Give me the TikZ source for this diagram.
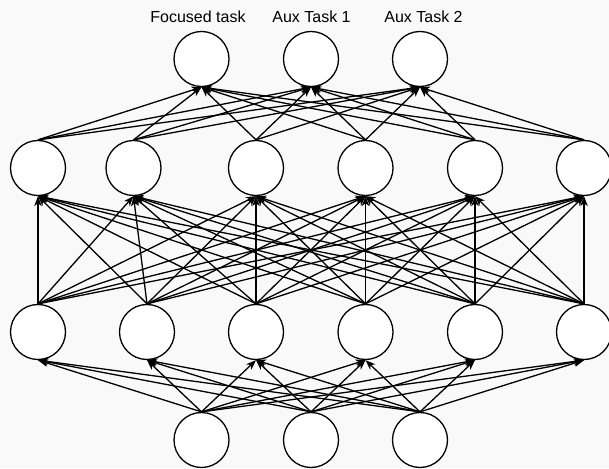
\documentclass[tikz,border=0pt]{standalone}
\usepackage{fontspec}
\setmainfont{Liberation Sans}
\usetikzlibrary{arrows.meta}
\definecolor{bgcol}{RGB}{249,249,249}
\tikzset{
  neuron/.style={circle, draw, fill=white, line width=1.3pt, minimum size=55pt, inner sep=0pt},
  link/.style={line width=1.3pt, -{Stealth[length=10pt,width=7.5pt,inset=3pt]}},
  tasklabel/.style={font=\fontsize{16}{19}\selectfont}
}
\begin{document}
\begin{tikzpicture}[x=1pt,y=1pt]
\fill[bgcol] (0,0) rectangle (609,468);
\useasboundingbox (0,0) rectangle (609,468);
% input layer
\node[neuron] (iid0) at (201.5,28){};
\node[neuron] (iid1) at (311,28){};
\node[neuron] (iid2) at (420,28){};
% first hidden layer
\node[neuron] (aid0) at (38,136){};
\node[neuron] (aid1) at (147,136){};
\node[neuron] (aid2) at (256,136){};
\node[neuron] (aid3) at (365.5,136){};
\node[neuron] (aid4) at (475,136){};
\node[neuron] (aid5) at (584,136){};
% second hidden layer
\node[neuron] (bid0) at (38,300){};
\node[neuron] (bid1) at (133.5,300){};
\node[neuron] (bid2) at (256,300){};
\node[neuron] (bid3) at (365.5,300){};
\node[neuron] (bid4) at (475,300){};
\node[neuron] (bid5) at (584,300){};
% task heads
\node[neuron] (oid0) at (201.5,409){};
\node[neuron] (oid1) at (311,409){};
\node[neuron] (oid2) at (420,409){};
\node[tasklabel] (lid0) at (198,451){Focused task};
\node[tasklabel] (lid1) at (311.5,451){Aux Task 1};
\node[tasklabel] (lid2) at (423.5,451){Aux Task 2};

\foreach \s in {0,1,2}
  \foreach \t in {0,...,5}
    \draw[link] (iid\s.north) -- (aid\t.south);
\foreach \s in {0,...,5}
  \foreach \t in {0,...,5}
    \draw[link] (aid\s.north) -- (bid\t.south);
\foreach \s in {0,...,5}
  \foreach \t in {0,1,2}
    \draw[link] (bid\s.north) -- (oid\t.south);

\end{tikzpicture}
\end{document}
